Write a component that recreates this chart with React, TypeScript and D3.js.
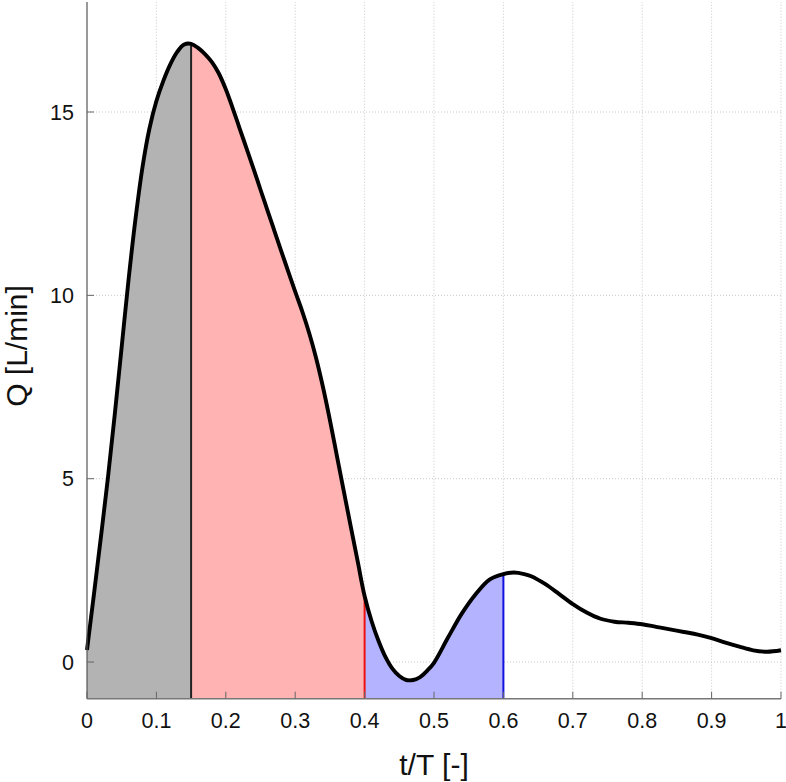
import { useEffect, useRef } from "react"
import * as d3 from "d3"

// t/T samples and flow rate Q [L/min]
const tValues = [
  0, 0.01, 0.02, 0.03, 0.04, 0.05, 0.06, 0.07, 0.08, 0.09,
  0.1, 0.11, 0.12, 0.13, 0.14, 0.15, 0.16, 0.17, 0.18, 0.19,
  0.2, 0.21, 0.22, 0.23, 0.24, 0.25, 0.26, 0.27, 0.28, 0.29,
  0.3, 0.31, 0.32, 0.33, 0.34, 0.35, 0.36, 0.37, 0.38, 0.39,
  0.4, 0.41, 0.42, 0.43, 0.44, 0.45, 0.46, 0.47, 0.48, 0.49,
  0.5, 0.52, 0.54, 0.56, 0.58, 0.6, 0.615, 0.63, 0.64, 0.66,
  0.68, 0.7, 0.72, 0.74, 0.76, 0.78, 0.8, 0.82, 0.84, 0.86,
  0.88, 0.9, 0.92, 0.94, 0.96, 0.98, 1,
]
const qValues = [
  0.33, 1.85, 3.4, 5.0, 6.75, 8.6, 10.45, 12.1, 13.5, 14.55,
  15.3, 15.85, 16.3, 16.64, 16.84, 16.86, 16.75, 16.58, 16.36, 16.05,
  15.62, 15.1, 14.55, 14.0, 13.45, 12.88, 12.32, 11.76, 11.2, 10.65,
  10.1, 9.57, 8.98, 8.3, 7.5, 6.6, 5.63, 4.66, 3.7, 2.75,
  1.8, 1.12, 0.58, 0.14, -0.18, -0.38, -0.49, -0.49, -0.41, -0.24,
  -0.02, 0.66, 1.32, 1.85, 2.25, 2.4, 2.44, 2.4, 2.34, 2.13,
  1.86, 1.58, 1.35, 1.18, 1.1, 1.07, 1.03, 0.96, 0.89, 0.82,
  0.75, 0.65, 0.53, 0.42, 0.32, 0.28, 0.32,
]

const xTicks = [0, 0.1, 0.2, 0.3, 0.4, 0.5, 0.6, 0.7, 0.8, 0.9, 1]
const yTicks = [0, 5, 10, 15]

// shaded phases: [start, end, fill, edge line colour at end]
const phases = [
  { from: 0, to: 0.15, fill: "#b3b3b3", line: "#222222" },
  { from: 0.15, to: 0.4, fill: "#ffb3b3", line: "#ee1111" },
  { from: 0.4, to: 0.6, fill: "#b3b3ff", line: "#1111dd" },
]

interface Pt {
  t: number
  q: number
}

const App = () => {
  const svgRef = useRef<SVGSVGElement | null>(null)

  useEffect(() => {
    if (!svgRef.current) return
    const svg = d3.select(svgRef.current)
    svg.selectAll("*").remove()

    const left = 87
    const right = 781
    const top = 2
    const bottom = 698.7

    const data: Pt[] = tValues.map((t, i) => ({ t, q: qValues[i] }))

    const x = d3.scaleLinear().domain([0, 1]).range([left, right])
    const y = d3.scaleLinear().domain([-1, 18]).range([bottom, top])

    const font = "'Liberation Sans', Arial, sans-serif"
    const smooth = d3.curveCatmullRom.alpha(0.5)

    // grid lines
    const grid = svg.append("g")
    grid
      .selectAll("line.gx")
      .data(xTicks.slice(1))
      .join("line")
      .attr("x1", (d) => x(d))
      .attr("x2", (d) => x(d))
      .attr("y1", bottom)
      .attr("y2", top)
      .attr("stroke", "#c8c8c8")
      .attr("stroke-width", 1)
      .attr("stroke-dasharray", "1,2")
    grid
      .selectAll("line.gy")
      .data(yTicks)
      .join("line")
      .attr("x1", left)
      .attr("x2", right)
      .attr("y1", (d) => y(d))
      .attr("y2", (d) => y(d))
      .attr("stroke", "#c8c8c8")
      .attr("stroke-width", 1)
      .attr("stroke-dasharray", "1,2")

    // phase fills, clipped from one area shape
    const area = d3
      .area<Pt>()
      .x((d) => x(d.t))
      .y0(bottom)
      .y1((d) => y(d.q))
      .curve(smooth)

    const defs = svg.append("defs")
    phases.forEach((p, i) => {
      defs
        .append("clipPath")
        .attr("id", `phase-${i}`)
        .append("rect")
        .attr("x", x(p.from))
        .attr("y", top)
        .attr("width", x(p.to) - x(p.from))
        .attr("height", bottom - top)
      svg
        .append("path")
        .datum(data)
        .attr("d", area)
        .attr("fill", p.fill)
        .attr("clip-path", `url(#phase-${i})`)
    })

    // phase boundary lines
    phases.forEach((p) => {
      const pt = data.find((d) => Math.abs(d.t - p.to) < 1e-9)!
      svg
        .append("line")
        .attr("x1", x(p.to))
        .attr("x2", x(p.to))
        .attr("y1", bottom)
        .attr("y2", y(pt.q))
        .attr("stroke", p.line)
        .attr("stroke-width", 2)
    })

    // flow curve
    const line = d3
      .line<Pt>()
      .x((d) => x(d.t))
      .y((d) => y(d.q))
      .curve(smooth)
    svg
      .append("path")
      .datum(data)
      .attr("d", line)
      .attr("fill", "none")
      .attr("stroke", "#000")
      .attr("stroke-width", 3.9)
      .attr("stroke-linejoin", "round")

    // axes lines
    svg
      .append("line")
      .attr("x1", left)
      .attr("x2", left)
      .attr("y1", top)
      .attr("y2", bottom)
      .attr("stroke", "#555")
      .attr("stroke-width", 1.2)
    svg
      .append("line")
      .attr("x1", left)
      .attr("x2", right)
      .attr("y1", bottom)
      .attr("y2", bottom)
      .attr("stroke", "#777")
      .attr("stroke-width", 1.4)

    // ticks (inward)
    svg
      .selectAll("line.tx")
      .data(xTicks)
      .join("line")
      .attr("x1", (d) => x(d))
      .attr("x2", (d) => x(d))
      .attr("y1", bottom)
      .attr("y2", bottom - 7)
      .attr("stroke", "#666")
      .attr("stroke-width", 1)
    svg
      .selectAll("line.ty")
      .data(yTicks)
      .join("line")
      .attr("x1", left)
      .attr("x2", left + 7)
      .attr("y1", (d) => y(d))
      .attr("y2", (d) => y(d))
      .attr("stroke", "#666")
      .attr("stroke-width", 1)

    // tick labels
    svg
      .selectAll("text.xl")
      .data(xTicks)
      .join("text")
      .attr("x", (d) => x(d))
      .attr("y", bottom + 22)
      .attr("dy", "0.35em")
      .attr("text-anchor", "middle")
      .style("font-family", font)
      .style("font-size", "21.5px")
      .attr("fill", "#111")
      .text((d) => String(d))
    svg
      .selectAll("text.yl")
      .data(yTicks)
      .join("text")
      .attr("x", left - 13)
      .attr("y", (d) => y(d))
      .attr("dy", "0.35em")
      .attr("text-anchor", "end")
      .style("font-family", font)
      .style("font-size", "21.5px")
      .attr("fill", "#111")
      .text((d) => String(d))

    // axis titles
    svg
      .append("text")
      .attr("x", 434)
      .attr("y", 775)
      .attr("text-anchor", "middle")
      .style("font-family", font)
      .style("font-size", "30px")
      .attr("fill", "#111")
      .text("t/T [-]")
    svg
      .append("text")
      .attr("transform", `translate(27, 346) rotate(-90)`)
      .attr("text-anchor", "middle")
      .style("font-family", font)
      .style("font-size", "30px")
      .attr("fill", "#111")
      .text("Q [L/min]")
  }, [])

  return (
    <div style={{ position: "absolute", left: 0, top: 0 }}>
      <svg ref={svgRef} width={786} height={782} style={{ display: "block", background: "#fff" }} />
    </div>
  )
}

export default App
